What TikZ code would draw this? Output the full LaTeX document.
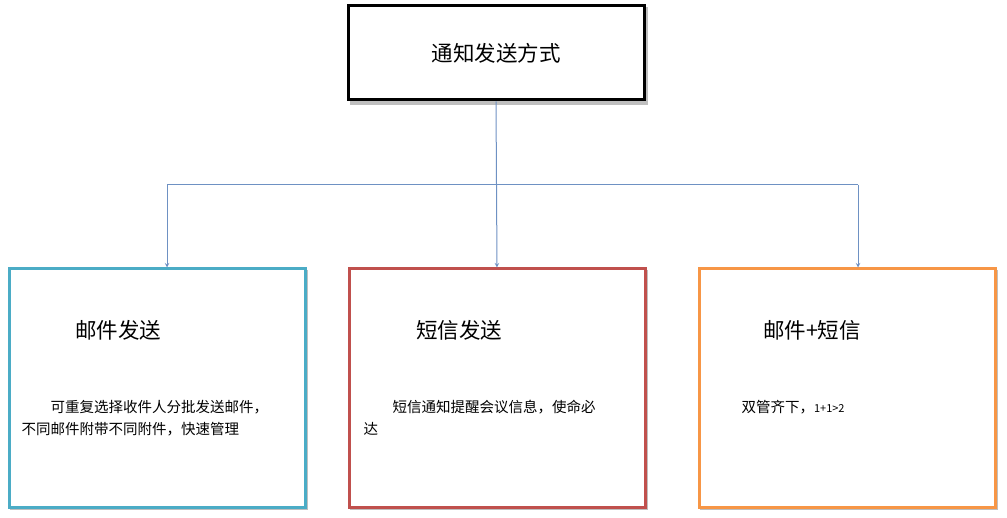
\documentclass[tikz,border=0pt]{standalone}
\usepackage{fontspec}
\setmainfont{Noto Sans CJK SC}
\usetikzlibrary{positioning}

\tikzset{
  box/.style={draw=#1, line width=3pt, minimum width=296pt, minimum height=238pt, fill=white},
  shade/.style={fill=black!25, minimum width=298pt, minimum height=240pt},
  link/.style={draw={rgb,255:red,110;green,145;blue,195}, line width=1pt, ->, >=stealth},
  head/.style={font=\fontsize{21.5}{24}\selectfont},
  body/.style={font=\fontsize{14.5}{22}\selectfont, align=left, anchor=north west}
}
\definecolor{teal}{RGB}{75,172,198}
\definecolor{brick}{RGB}{192,80,77}
\definecolor{amber}{RGB}{247,150,70}

\begin{document}
\begin{tikzpicture}[x=1pt,y=-1pt]
  \useasboundingbox (0,0) rectangle (1007,518);

  % top
  \node[fill=black!25, minimum width=298pt, minimum height=98pt] at (499,56) {};
  \node[draw=black, line width=3pt, fill=white, minimum width=296pt, minimum height=94pt,
        head] (top) at (496,53) {通知发送方式};

  % mail
  \node[shade] at (159,390) {};
  \node[box=teal] (mail) at (157,388) {};
  \node[head] (mailT) at (118,330) {邮件发送};
  \node[body] (mailB) at (18,397) {\hspace{2em}可重复选择收件人分批发送邮件，\\不同邮件附带不同附件，快速管理};

  % sms
  \node[shade] at (499,390) {};
  \node[box=brick] (sms) at (497,388) {};
  \node[head] (smsT) at (459,330) {短信发送};
  \node[body] (smsB) at (360,397) {\hspace{2em}短信通知提醒会议信息，使命必\\达};

  % both
  \node[shade] at (849,390) {};
  \node[box=amber] (both) at (847,388) {};
  \node[head] (bothT) at (812,330) {邮件+短信};
  \node[body] (bothB) at (738,397) {双管齐下，{\fontsize{11}{12}\selectfont 1+1>2}};

  % connectors
  \coordinate (hl) at (167,185);
  \coordinate (hr) at (858,185);
  \draw[link] (top.south) -- (sms.north);
  \draw[link, -] (hl) -- (hr);
  \draw[link] (hl) -- (hl |- mail.north);
  \draw[link] (hr) -- (hr |- both.north);
\end{tikzpicture}
\end{document}
